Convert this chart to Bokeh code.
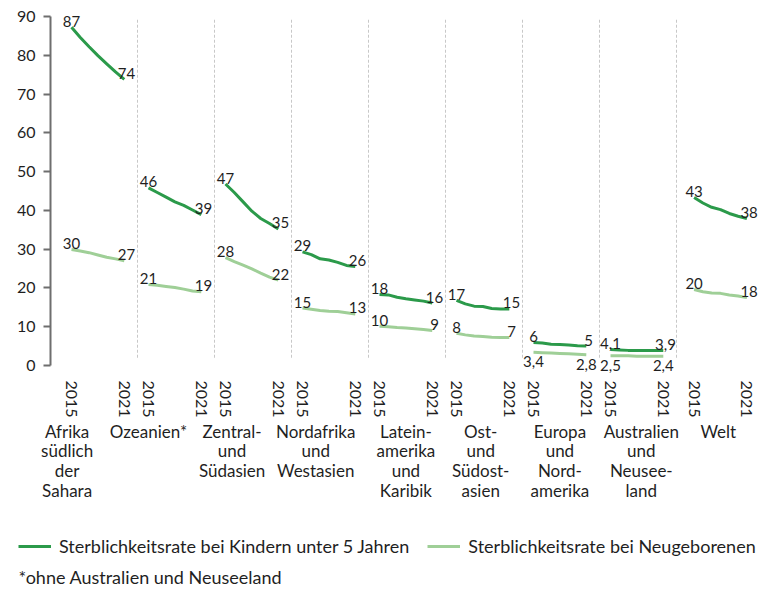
from bokeh.plotting import figure
from bokeh.models import (ColumnDataSource, Range1d, FixedTicker, LinearAxis,
                          Legend, LegendItem, Label)
from bokeh.core.properties import value
from bokeh.embed import file_html
from bokeh.resources import INLINE

# ---------------- data ----------------
regions = [
    "Afrika\nsüdlich\nder\nSahara",
    "Ozeanien*",
    "Zentral-\nund\nSüdasien",
    "Nordafrika\nund\nWestasien",
    "Latein-\namerika\nund\nKaribik",
    "Ost-\nund\nSüdost-\nasien",
    "Europa\nund\nNord-\namerika",
    "Australien\nund\nNeusee-\nland",
    "Welt",
]
years = [2015, 2016, 2017, 2018, 2019, 2020, 2021]
year_tick_labels = ["2015", "2021"]

under5 = [
    [87.2, 84.6, 82.2, 79.9, 77.8, 75.7, 73.8],
    [45.8, 44.6, 43.4, 42.2, 41.3, 40.1, 38.9],
    [46.8, 44.6, 42.2, 39.8, 37.9, 36.6, 35.2],
    [29.3, 28.6, 27.5, 27.2, 26.6, 25.8, 25.5],
    [18.3, 18.2, 17.6, 17.2, 16.9, 16.6, 16.1],
    [16.8, 15.9, 15.3, 15.2, 14.7, 14.6, 14.6],
    [5.9, 5.8, 5.5, 5.4, 5.3, 5.1, 5.0],
    [4.1, 4.0, 3.9, 3.9, 3.9, 3.9, 3.9],
    [43.3, 41.9, 40.8, 40.2, 39.2, 38.5, 37.9],
]
neonatal = [
    [29.9, 29.5, 29.1, 28.5, 27.9, 27.5, 27.0],
    [20.9, 20.7, 20.4, 20.1, 19.7, 19.2, 19.0],
    [27.8, 26.8, 25.9, 24.9, 23.8, 22.8, 22.0],
    [14.8, 14.5, 14.2, 14.0, 13.9, 13.6, 13.3],
    [10.1, 10.0, 9.8, 9.7, 9.5, 9.3, 9.0],
    [8.3, 7.9, 7.6, 7.5, 7.3, 7.2, 7.2],
    [3.4, 3.3, 3.2, 3.1, 3.0, 2.9, 2.8],
    [2.5, 2.5, 2.5, 2.4, 2.4, 2.4, 2.4],
    [19.6, 19.0, 18.7, 18.6, 18.2, 17.9, 17.5],
]
under5_labels = [("87", "74"), ("46", "39"), ("47", "35"), ("29", "26"), ("18", "16"),
                 ("17", "15"), ("6", "5"), ("4,1", "3,9"), ("43", "38")]
neonatal_labels = [("30", "27"), ("21", "19"), ("28", "22"), ("15", "13"), ("10", "9"),
                   ("8", "7"), ("3,4", "2,8"), ("2,5", "2,4"), ("20", "18")]
y_ticks = [0, 10, 20, 30, 40, 50, 60, 70, 80, 90]
legend_labels = ["Sterblichkeitsrate bei Kindern unter 5 Jahren",
                 "Sterblichkeitsrate bei Neugeborenen"]
footnote = "*ohne Australien und Neuseeland"

# ---------------- layout helpers ----------------
YEAR_STEP = 4          # x units per year
PITCH = 35             # x units per region block
WORLD_EXTRA = 3        # extra gap before "Welt"
SEP_AFTER = 30         # separator offset from block start
LABEL_SHIFT = [-14, -12, -9, -6, 0, -1, 0, 2, -1]
BELOW_NEO = {6, 7}     # regions whose neonatal labels sit below the line

PX_X = 2.2             # pixels per x unit
PX_Y = 3.878           # pixels per y unit
W, H = 763, 588
X0_PX, Y0_PX = 71, 365  # page position of (first tick, value 0)

def xd(px):
    return (px - X0_PX) / PX_X

def yd(py):
    return (Y0_PX - py) / PX_Y

starts = [i * PITCH + (WORLD_EXTRA if i == len(regions) - 1 else 0) for i in range(len(regions))]

def xs_for(i):
    return [starts[i] + (y - years[0]) * YEAR_STEP for y in years]

DARK = "#2b9a4a"
LIGHT = "#9fcf97"
TXT = "#1f1f1f"
FONT = "Lato"

p = figure(frame_width=W, frame_height=H,
           x_range=Range1d(xd(0), xd(W)), y_range=Range1d(yd(H), yd(0)),
           output_backend="svg", toolbar_location=None,
           x_axis_type=None, y_axis_type=None,
           min_border_left=0, min_border_right=0, min_border_top=0,
           min_border_bottom=0)
p.outline_line_color = None
p.grid.visible = False
p.background_fill_color = "white"
p.border_fill_color = "white"

# separators
sep_x = [starts[i] + SEP_AFTER for i in range(len(regions) - 1)]
p.segment(x0=sep_x, x1=sep_x, y0=[2] * len(sep_x), y1=[89.5] * len(sep_x),
          line_color="#c8c8c8", line_width=1, line_dash="3 2")

# lines
all_x = [xs_for(i) for i in range(len(regions))]
r_neo = p.multi_line(xs=all_x, ys=neonatal, line_color=LIGHT, line_width=3)
r_u5 = p.multi_line(xs=all_x, ys=under5, line_color=DARK, line_width=3)

# value labels
def label_source(vals, labels, idxs, end_shift=0):
    xs, ys, ts = [], [], []
    for i in idxs:
        x = all_x[i]
        xs += [x[0], x[-1] + end_shift]
        ys += [vals[i][0], vals[i][-1]]
        ts += list(labels[i])
    return ColumnDataSource(dict(x=xs, y=ys, t=ts))

all_idx = list(range(len(regions)))
neo_above = [i for i in all_idx if i not in BELOW_NEO]
neo_below = [i for i in all_idx if i in BELOW_NEO]

for src in (label_source(under5, under5_labels, all_idx, end_shift=1),
            label_source(neonatal, neonatal_labels, neo_above, end_shift=1)):
    p.text(x="x", y="y", text="t", source=src, text_align="center",
           text_baseline="alphabetic", y_offset=-6, text_color=TXT,
           text_font=value(FONT), text_font_size="15px")
p.text(x="x", y="y", text="t", source=label_source(neonatal, neonatal_labels, neo_below),
       text_align="center", text_baseline="top", y_offset=4, text_color=TXT,
       text_font=value(FONT), text_font_size="15px")

# y axis (drawn at a fixed position inside the canvas)
ya = LinearAxis(ticker=FixedTicker(ticks=y_ticks), bounds=(0, 90),
                fixed_location=xd(50),
                axis_line_color="#6e6e6e", axis_line_width=2,
                major_tick_line_color="#6e6e6e", major_tick_line_width=2,
                major_tick_out=7, major_tick_in=0, minor_tick_line_color=None,
                major_label_standoff=8, major_label_text_font=FONT,
                major_label_text_font_size="16px", major_label_text_color=TXT)
p.add_layout(ya, "left")

# year axis
year_ticks = []
year_over = {}
for i in range(len(regions)):
    a = starts[i]
    b = starts[i] + (years[-1] - years[0]) * YEAR_STEP
    year_ticks += [a, b]
    year_over[a] = year_tick_labels[0]
    year_over[b] = year_tick_labels[1]
xa = LinearAxis(ticker=FixedTicker(ticks=year_ticks), major_label_overrides=year_over,
                fixed_location=yd(374),
                major_label_orientation="vertical", axis_line_color=None,
                major_tick_line_color=None, minor_tick_line_color=None,
                major_tick_out=0, major_tick_in=0,
                major_label_standoff=6, major_label_text_font=FONT,
                major_label_text_font_size="16px", major_label_text_color=TXT)
p.add_layout(xa, "below")

# region axis
reg_ticks = [starts[i] + 12 + LABEL_SHIFT[i] for i in range(len(regions))]
reg_over = {t: r for t, r in zip(reg_ticks, regions)}
ra = LinearAxis(ticker=FixedTicker(ticks=reg_ticks), major_label_overrides=reg_over,
                fixed_location=yd(420),
                axis_line_color=None, major_tick_line_color=None,
                minor_tick_line_color=None, major_tick_out=0, major_tick_in=0,
                major_label_standoff=0,
                major_label_text_font=FONT, major_label_text_font_size="17px",
                major_label_text_line_height=0.95,
                major_label_text_color=TXT)
p.add_layout(ra, "below")

# legend
legend = Legend(items=[LegendItem(label=legend_labels[0], renderers=[r_u5]),
                       LegendItem(label=legend_labels[1], renderers=[r_neo])],
                orientation="horizontal", location=(18, H - 557),
                label_text_font=FONT, label_text_font_size="18px",
                label_text_color=TXT, glyph_width=33, glyph_height=20,
                label_standoff=8, spacing=18, padding=0, margin=0,
                border_line_color=None, background_fill_alpha=0)
p.add_layout(legend)

# footnote
p.add_layout(Label(x=xd(18), y=yd(576), text=footnote, text_baseline="middle",
                   text_font=FONT, text_font_size="18px", text_color=TXT))

open("out.html", "w").write(file_html(p, INLINE))
